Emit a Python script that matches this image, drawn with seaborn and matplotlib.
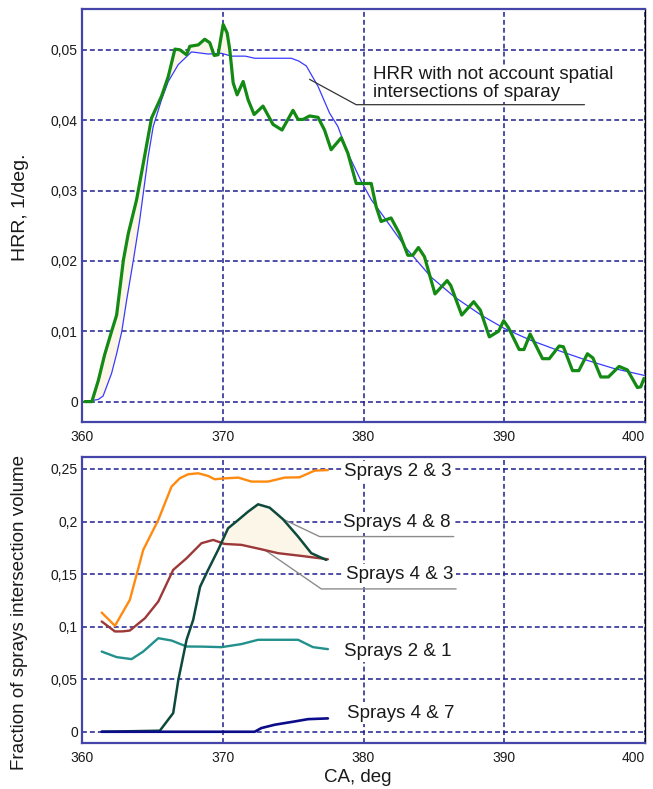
import numpy as np
import pandas as pd
import matplotlib
matplotlib.use("Agg")
import matplotlib.pyplot as plt
import seaborn as sns

# ---- Heat release rate (top panel) ----
hrr_x = [360.2, 360.7, 361.16, 361.6, 362.06, 362.46, 362.94, 363.29, 363.88, 364.23,
         364.94, 365.65, 366.13, 366.6, 366.95, 367.43, 367.66, 368.26, 368.72, 369.08,
         369.39, 369.67, 370.03, 370.31, 370.5, 370.74, 371.02, 371.45, 371.8, 372.23,
         372.86, 373.57, 374.21, 374.99, 375.35, 375.7, 376.17, 376.77, 377.23, 377.7,
         378.42, 378.89, 379.48, 380.55, 380.9, 381.25, 381.96, 382.55, 383.15, 383.5,
         383.9, 384.33, 385.08, 385.94, 386.2, 386.98, 387.83, 388.3, 388.94, 389.6,
         389.96, 390.3, 391.06, 391.4, 391.84, 392.72, 393.2, 393.9, 394.2, 394.85,
         395.3, 395.91, 396.3, 396.86, 397.4, 398.16, 398.75, 399.46, 399.7, 399.93]
hrr_y = [0.0, 0.0, 0.003, 0.0066, 0.0097, 0.0123, 0.0201, 0.0239, 0.0287, 0.0325,
         0.0403, 0.0434, 0.0462, 0.0501, 0.0500, 0.0493, 0.0505, 0.0507, 0.0515, 0.0510,
         0.0492, 0.0493, 0.0536, 0.0524, 0.0500, 0.0453, 0.0436, 0.0455, 0.0429, 0.0408,
         0.0420, 0.0394, 0.0386, 0.0414, 0.0401, 0.0401, 0.0406, 0.0404, 0.0386, 0.0358,
         0.0375, 0.0353, 0.0310, 0.0310, 0.0277, 0.0256, 0.0261, 0.0239, 0.0208, 0.0208,
         0.0219, 0.0206, 0.0153, 0.0172, 0.0165, 0.0123, 0.0142, 0.0130, 0.0092, 0.0100,
         0.0115, 0.0105, 0.0074, 0.0074, 0.0096, 0.0061, 0.0061, 0.0079, 0.0078, 0.0044,
         0.0044, 0.0068, 0.0062, 0.0035, 0.0035, 0.0050, 0.0045, 0.0020, 0.0021, 0.0033]

hrr_noint_x = [360.2, 361.16, 361.5, 362.1, 362.46, 362.82, 363.17, 363.65, 364.1, 364.7,
               365.06, 365.65, 366.13, 366.84, 367.78, 368.96, 369.91, 370.62, 371.6, 372.27,
               374.87, 375.4, 375.94, 376.77, 377.59, 378.18, 378.89, 379.84, 380.55, 381.25,
               383.03, 384.8, 386.45, 388.35, 390.0, 391.9, 393.79, 395.67, 397.8, 400.0]
hrr_noint_y = [0.0, 0.0003, 0.0008, 0.0040, 0.0068, 0.0099, 0.0144, 0.0201, 0.0258, 0.0348,
               0.0391, 0.0429, 0.0455, 0.0479, 0.0497, 0.0494, 0.0495, 0.0491, 0.0491, 0.0488,
               0.0488, 0.0484, 0.0477, 0.0448, 0.0410, 0.0391, 0.0353, 0.0313, 0.0287, 0.0268,
               0.0218, 0.0177, 0.0149, 0.0123, 0.0104, 0.0087, 0.0073, 0.0060, 0.0047, 0.0037]

# ---- Spray intersection fractions (bottom panel) ----
s23_x = [361.4, 362.34, 363.4, 364.35, 365.42, 366.36, 366.95, 367.55, 368.26, 368.96,
         369.43, 370.05, 371.1, 372.04, 373.22, 374.4, 375.46, 376.52, 377.47]
s23_y = [0.1134, 0.1008, 0.1255, 0.173, 0.2015, 0.2332, 0.2412, 0.245, 0.2459, 0.2434,
         0.2402, 0.241, 0.2418, 0.238, 0.238, 0.2418, 0.2421, 0.2484, 0.249]

s43_x = [361.4, 362.34, 362.9, 363.4, 364.47, 365.42, 366.48, 367.43, 368.49, 369.32,
         370.14, 371.33, 372.74, 373.93, 375.58, 377.47]
s43_y = [0.1049, 0.0954, 0.0955, 0.0963, 0.108, 0.1239, 0.154, 0.1651, 0.1794, 0.1825,
         0.1787, 0.1778, 0.1736, 0.1699, 0.1673, 0.1641]

s48_x = [361.4, 365.53, 366.48, 366.84, 367.43, 367.9, 368.39, 368.96, 369.67, 370.38,
         371.1, 371.8, 372.51, 373.33, 374.28, 375.35, 376.29, 377.35]
s48_y = [0.0, 0.001, 0.0178, 0.049, 0.0875, 0.1065, 0.138, 0.154, 0.173, 0.1936,
         0.2015, 0.2094, 0.2164, 0.2132, 0.2022, 0.1857, 0.1699, 0.1635]

s21_x = [361.4, 362.46, 363.52, 364.35, 365.42, 366.36, 367.43, 368.5, 369.91, 371.33,
         372.51, 374.0, 375.35, 376.41, 377.47]
s21_y = [0.0763, 0.071, 0.0691, 0.0763, 0.089, 0.0868, 0.0811, 0.081, 0.0805, 0.0834,
         0.0875, 0.0875, 0.0875, 0.0805, 0.0786]

s47_x = [361.4, 372.27, 372.74, 373.7, 375.11, 376.06, 377.47]
s47_y = [0.0, 0.0, 0.0035, 0.0067, 0.0098, 0.012, 0.0127]

x_ticks = [360, 370, 380, 390, 400]
x_tick_labels = ["360", "370", "380", "390", "400"]
hrr_ticks = [0.0, 0.01, 0.02, 0.03, 0.04, 0.05]
hrr_tick_labels = ["0", "0,01", "0,02", "0,03", "0,04", "0,05"]
frac_ticks = [0.0, 0.05, 0.10, 0.15, 0.20, 0.25]
frac_tick_labels = ["0", "0,05", "0,1", "0,15", "0,2", "0,25"]

sns.set_style("white")
plt.rcParams["font.family"] = ["Liberation Sans", "DejaVu Sans"]

W, H = 653, 789
fig = plt.figure(figsize=(W / 100, H / 100), dpi=100)

def px_axes(left, top, right, bottom):
    return fig.add_axes([left / W, 1 - bottom / H, (right - left) / W, (bottom - top) / H])

ax1 = px_axes(82, 9, 645, 422)
ax2 = px_axes(82, 457, 645, 743)

GRID = "#1e1e8e"
CREAM = "#fcf6e8"
TXT = "#1a1a1a"

def style(ax, yticks, ylabels, ylim):
    ax.set_xlim(360.15, 400.0)
    ax.set_ylim(*ylim)
    ax.set_xticks(x_ticks)
    ax.set_xticklabels(x_tick_labels)
    ax.get_xticklabels()[-1].set_horizontalalignment("right")
    ax.set_yticks(yticks)
    ax.set_yticklabels(ylabels)
    ax.grid(True, color=GRID, linestyle=(0, (3.2, 2.0)), linewidth=1.1)
    ax.set_axisbelow(True)
    ax.tick_params(length=0, labelsize=10, colors=TXT)
    ax.tick_params(axis="x", pad=5.5)
    ax.tick_params(axis="y", pad=3)
    for side in ("left", "top", "bottom"):
        ax.spines[side].set_color("#4444aa")
        ax.spines[side].set_linewidth(1.6)
    ax.spines["right"].set_color("#000000")
    ax.spines["right"].set_linewidth(1.0)
    ax.set_xlabel("")
    ax.set_ylabel("")

# ---- top panel ----
grid_x = np.union1d(hrr_x, hrr_noint_x)
grid_x = grid_x[(grid_x >= 360.2) & (grid_x <= 399.93)]
g_int = np.interp(grid_x, hrr_x, hrr_y)
b_int = np.interp(grid_x, hrr_noint_x, hrr_noint_y)
ax1.fill_between(grid_x, g_int, b_int, where=g_int >= b_int, interpolate=True,
                 color=CREAM, lw=0, zorder=1)
sns.lineplot(data=pd.DataFrame({"CA": hrr_noint_x, "HRR": hrr_noint_y}), x="CA", y="HRR",
             ax=ax1, color="#3a3aff", lw=0.9, sort=False, estimator=None, zorder=3)
sns.lineplot(data=pd.DataFrame({"CA": hrr_x, "HRR": hrr_y}), x="CA", y="HRR",
             ax=ax1, color="#138a13", lw=2.3, sort=False, estimator=None, zorder=4)
ax1.plot([376.17, 379.48, 395.7], [0.0458, 0.0422, 0.0422], color="#333333", lw=0.9, zorder=5)
ax1.text(380.7, 0.0427, "HRR with not account spatial\nintersections of sparay",
         ha="left", va="bottom", fontsize=13.5, color=TXT, linespacing=1.1, zorder=6,
         bbox=dict(facecolor="white", edgecolor="none", pad=1))
style(ax1, hrr_ticks, hrr_tick_labels, (-0.0029, 0.0558))

# ---- bottom panel ----
fx = np.union1d(s48_x, s43_x)
fx = fx[(fx >= 369.5) & (fx <= 377.35)]
top48 = np.interp(fx, s48_x, s48_y)
bot43 = np.interp(fx, s43_x, s43_y)
ax2.fill_between(fx, top48, bot43, where=top48 >= bot43, interpolate=True,
                 color=CREAM, lw=0, zorder=1)

series = [
    (s23_x, s23_y, "#ff8a10", 1.7),
    (s43_x, s43_y, "#9c3838", 1.7),
    (s21_x, s21_y, "#22908c", 1.7),
    (s48_x, s48_y, "#0e4a3c", 1.8),
    (s47_x, s47_y, "#0c0c8a", 1.9),
]
for xs, ys, col, lw in series:
    sns.lineplot(data=pd.DataFrame({"CA": xs, "frac": ys}), x="CA", y="frac", ax=ax2,
                 color=col, lw=lw, sort=False, estimator=None, zorder=3)

ax2.plot([374.4, 376.88, 386.41], [0.2015, 0.1857, 0.1857], color="#8c8c8c", lw=1.0, zorder=2)
ax2.plot([372.98, 377.0, 386.58], [0.173, 0.1359, 0.1359], color="#8c8c8c", lw=1.0, zorder=2)

labels = [("Sprays 2 & 3", 378.6, 0.2474), ("Sprays 4 & 8", 378.55, 0.199),
          ("Sprays 4 & 3", 378.77, 0.1492), ("Sprays 2 & 1", 378.65, 0.0763),
          ("Sprays 4 & 7", 378.84, 0.0178)]
for txt, lx, ly in labels:
    ax2.text(lx, ly, txt, ha="left", va="center", fontsize=13.5, color=TXT, zorder=6,
             bbox=dict(facecolor="white", edgecolor="none", pad=1.5))
style(ax2, frac_ticks, frac_tick_labels, (-0.0107, 0.2614))

fig.text(21 / W, 1 - 207 / H, "HRR, 1/deg.", rotation=90, ha="center", va="center",
         fontsize=14, color=TXT)
fig.text(20 / W, 1 - 612 / H, "Fraction of sprays intersection volume", rotation=90,
         ha="center", va="center", fontsize=13.5, color=TXT)
fig.text(358 / W, 1 - 777 / H, "CA, deg", ha="center", va="center", fontsize=13.5, color=TXT)

fig.savefig("out.png", dpi=100, facecolor="white")
